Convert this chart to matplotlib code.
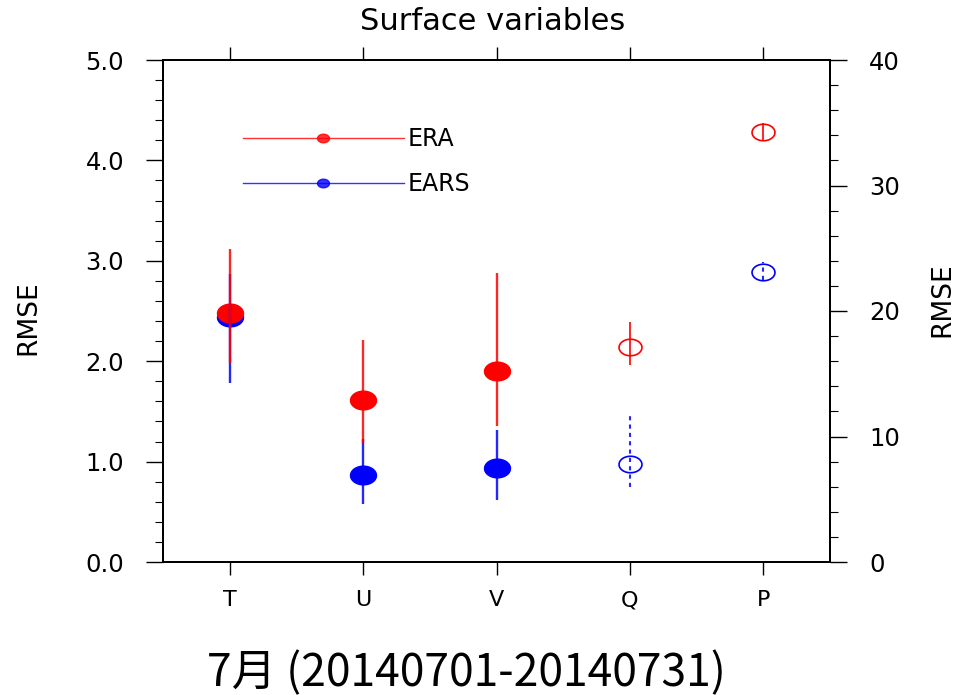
import numpy as np
import matplotlib
matplotlib.use('Agg')
import matplotlib.pyplot as plt
from matplotlib.path import Path
from matplotlib.lines import Line2D
from matplotlib.ticker import MultipleLocator, FormatStrFormatter

plt.rcParams['font.family'] = 'DejaVu Sans'

# left axis variables
left_vars = ['T', 'U', 'V']
era_mid = [2.48, 1.61, 1.90]
era_lo = [1.98, 1.19, 1.35]
era_hi = [3.12, 2.21, 2.88]
ears_mid = [2.44, 0.87, 0.94]
ears_lo = [1.78, 0.58, 0.62]
ears_hi = [2.87, 1.23, 1.31]

# right axis variables
right_vars = ['Q', 'P']
era2_mid = [17.15, 34.3]
era2_lo = [15.7, 33.6]
era2_hi = [19.15, 35.0]
ears2_mid = [7.8, 23.1]
ears2_lo = [6.0, 22.45]
ears2_hi = [11.6, 23.9]

all_vars = left_vars + right_vars
xpos = np.arange(1, len(all_vars) + 1)
xl = xpos[:len(left_vars)]
xr = xpos[len(left_vars):]

# ellipse marker (the original picture is wider than tall)
t = np.linspace(0, 2 * np.pi, 73)
ell = Path(np.column_stack([np.cos(t), 0.72 * np.sin(t)]), closed=True)

fig = plt.figure(figsize=(9.63, 6.95), dpi=100)
ax = fig.add_axes([163/963, 133/695, 667/963, 502/695])
ax2 = ax.twinx()

# filled markers + error bars on the left axis
ax.plot(xl, ears_mid, ls='none', marker=ell, ms=18.7, color='blue', zorder=3)
ax.plot(xl, era_mid, ls='none', marker=ell, ms=18.7, color='red', zorder=3)
ax.vlines(xl, ears_lo, ears_hi, colors='blue', lw=1.7, alpha=0.85, zorder=4)
ax.vlines(xl, era_lo, era_hi, colors='red', lw=1.7, alpha=0.85, zorder=4)

# hollow markers on the right axis
ax2.vlines(xr, era2_lo, era2_hi, colors='red', lw=1.4, alpha=0.85)
ax2.vlines(xr, ears2_lo, ears2_hi, colors='blue', lw=1.5, linestyles=(0, (2, 2)), alpha=0.85)
ax2.plot(xr, era2_mid, ls='none', marker=ell, ms=16.5, mfc='none', mec='red', mew=1.2)
ax2.plot(xr, ears2_mid, ls='none', marker=ell, ms=16.5, mfc='none', mec='blue', mew=1.2)

ax.set_xlim(0.5, 5.5)
ax.set_ylim(0, 5)
ax2.set_ylim(0, 40)

ax.set_xticks(xpos)
ax.set_xticklabels(all_vars)
ax.tick_params(axis='x', which='both', top=True, bottom=True, direction='out',
               length=9.5, width=1, pad=11, labelsize=16)

ax.yaxis.set_major_locator(MultipleLocator(1))
ax.yaxis.set_minor_locator(MultipleLocator(0.2))
ax.yaxis.set_major_formatter(FormatStrFormatter('%.1f'))
ax.tick_params(axis='y', which='major', direction='out', length=12, width=1, pad=16, labelsize=17.5)
ax.tick_params(axis='y', which='minor', direction='out', length=5.8, width=0.8)

ax2.yaxis.set_major_locator(MultipleLocator(10))
ax2.yaxis.set_minor_locator(MultipleLocator(2))
ax2.tick_params(axis='y', which='major', direction='out', length=12, width=1, pad=16, labelsize=17.5)
ax2.tick_params(axis='y', which='minor', direction='out', length=5.8, width=0.8)

for a in (ax, ax2):
    for s in a.spines.values():
        s.set_linewidth(1.4)

handles = [
    Line2D([], [], color='red', lw=1.0, alpha=0.8, marker=ell, ms=8.6, mec='red', mfc='red', label='ERA'),
    Line2D([], [], color='blue', lw=1.0, alpha=0.8, marker=ell, ms=8.6, mec='blue', mfc='blue', label='EARS'),
]
ax.legend(handles=handles, loc='upper left', bbox_to_anchor=(0.12, 0.866),
          frameon=False, fontsize=17, numpoints=1, handlelength=6.8,
          handletextpad=0.17, labelspacing=0.87, borderpad=0, borderaxespad=0)

fig.text(493/963, 1 - 21/695, 'Surface variables', ha='center', va='center', fontsize=22)
fig.text(28/963, 1 - 318/695, 'RMSE', rotation=90, ha='center', va='center', fontsize=19)
fig.text(942/963, 1 - 300/695, 'RMSE', rotation=90, ha='center', va='center', fontsize=19)
fig.text(466/963, 1 - 686/695, '7月 (20140701-20140731)', ha='center', va='baseline',
         fontsize=32, family=['Noto Sans CJK SC', 'DejaVu Sans'])

fig.savefig('out.png', dpi=100)
